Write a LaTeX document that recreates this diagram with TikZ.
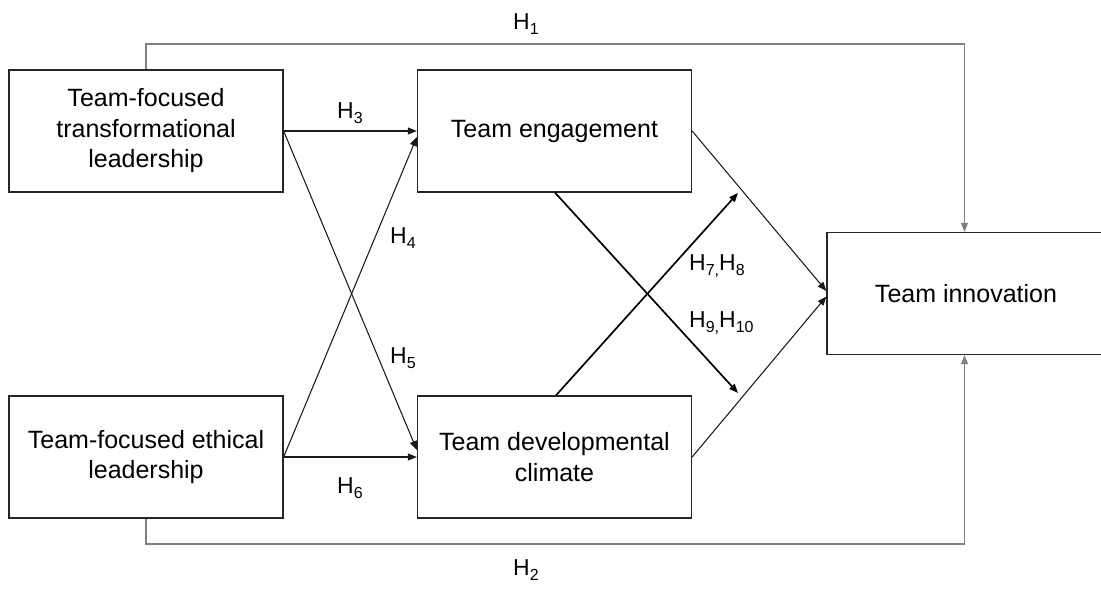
\documentclass[tikz,border=0pt]{standalone}
\usepackage{fontspec}
\setmainfont{Liberation Sans}
\usetikzlibrary{arrows.meta}
\newcommand\hyp[1]{H\raisebox{-5pt}{\fontsize{16}{16}\selectfont #1}}
\begin{document}
\begin{tikzpicture}[x=1pt,y=-1pt,
  box/.style={draw=black!85,line width=1.3pt,inner sep=0pt,
    minimum width=274pt,minimum height=122pt,align=center,
    font=\fontsize{25}{30.5}\selectfont},
  lbl/.style={inner sep=0pt,anchor=base west,font=\fontsize{23}{23}\selectfont},
  tip/.style={-{Triangle[length=9pt,width=7pt]}},
  link/.style={tip,line width=1.05pt,black!90},
  med/.style={tip,line width=1.7pt,black},
  direct/.style={tip,line width=1.05pt,black!50}]
\useasboundingbox (0,0) rectangle (1101,589);

% constructs
\node[box] (tftl) at (146,131) {Team-focused\\transformational\\leadership};
\node[box] (tfel) at (146,457) {Team-focused ethical\\leadership};
\node[box] (eng)  at (554.5,131) {Team engagement};
\node[box] (clim) at (554.5,457) {Team developmental\\climate};
\node[box,minimum width=278pt] (inno) at (966,293.5) {Team innovation};

% helper coordinates
\coordinate (toprail) at (0,44);
\coordinate (botrail) at (0,544);
\coordinate (modA) at (738,193);
\coordinate (modB) at (738,393);

% direct effects
\draw[direct] (tftl.north) -- (tftl.north |- toprail) -| ([xshift=-1.5pt]inno.north);
\draw[direct] (tfel.south) -- (tfel.south |- botrail) -| ([xshift=-1.5pt]inno.south);

% leadership to mediators
\draw[link] (tftl.east) -- (eng.west);
\draw[link] (tfel.east) -- (clim.west);
\draw[link] (tftl.east) -- ([yshift=7pt]clim.west);
\draw[link] (tfel.east) -- ([yshift=-6pt]eng.west);

% mediators to outcome
\draw[link] (eng.east) -- ([yshift=2.5pt]inno.west);
\draw[link] (clim.east) -- ([yshift=-3pt]inno.west);
\draw[med] ([xshift=0.5pt]eng.south) -- (modB);
\draw[med] ([xshift=1.5pt]clim.north) -- (modA);

% hypothesis labels
\node[lbl] (h1) at (513,30) {\hyp{1}};
\node[lbl] (h2) at (513,575) {\hyp{2}};
\node[lbl] (h3) at (337,118) {\hyp{3}};
\node[lbl] (h4) at (390,243) {\hyp{4}};
\node[lbl] (h5) at (390,363) {\hyp{5}};
\node[lbl] (h6) at (337,493) {\hyp{6}};
\node[lbl] (h78) at (689,270) {\hyp{7,}\hyp{8}};
\node[lbl] (h910) at (689,327) {\hyp{9,}\hyp{10}};
\end{tikzpicture}
\end{document}
